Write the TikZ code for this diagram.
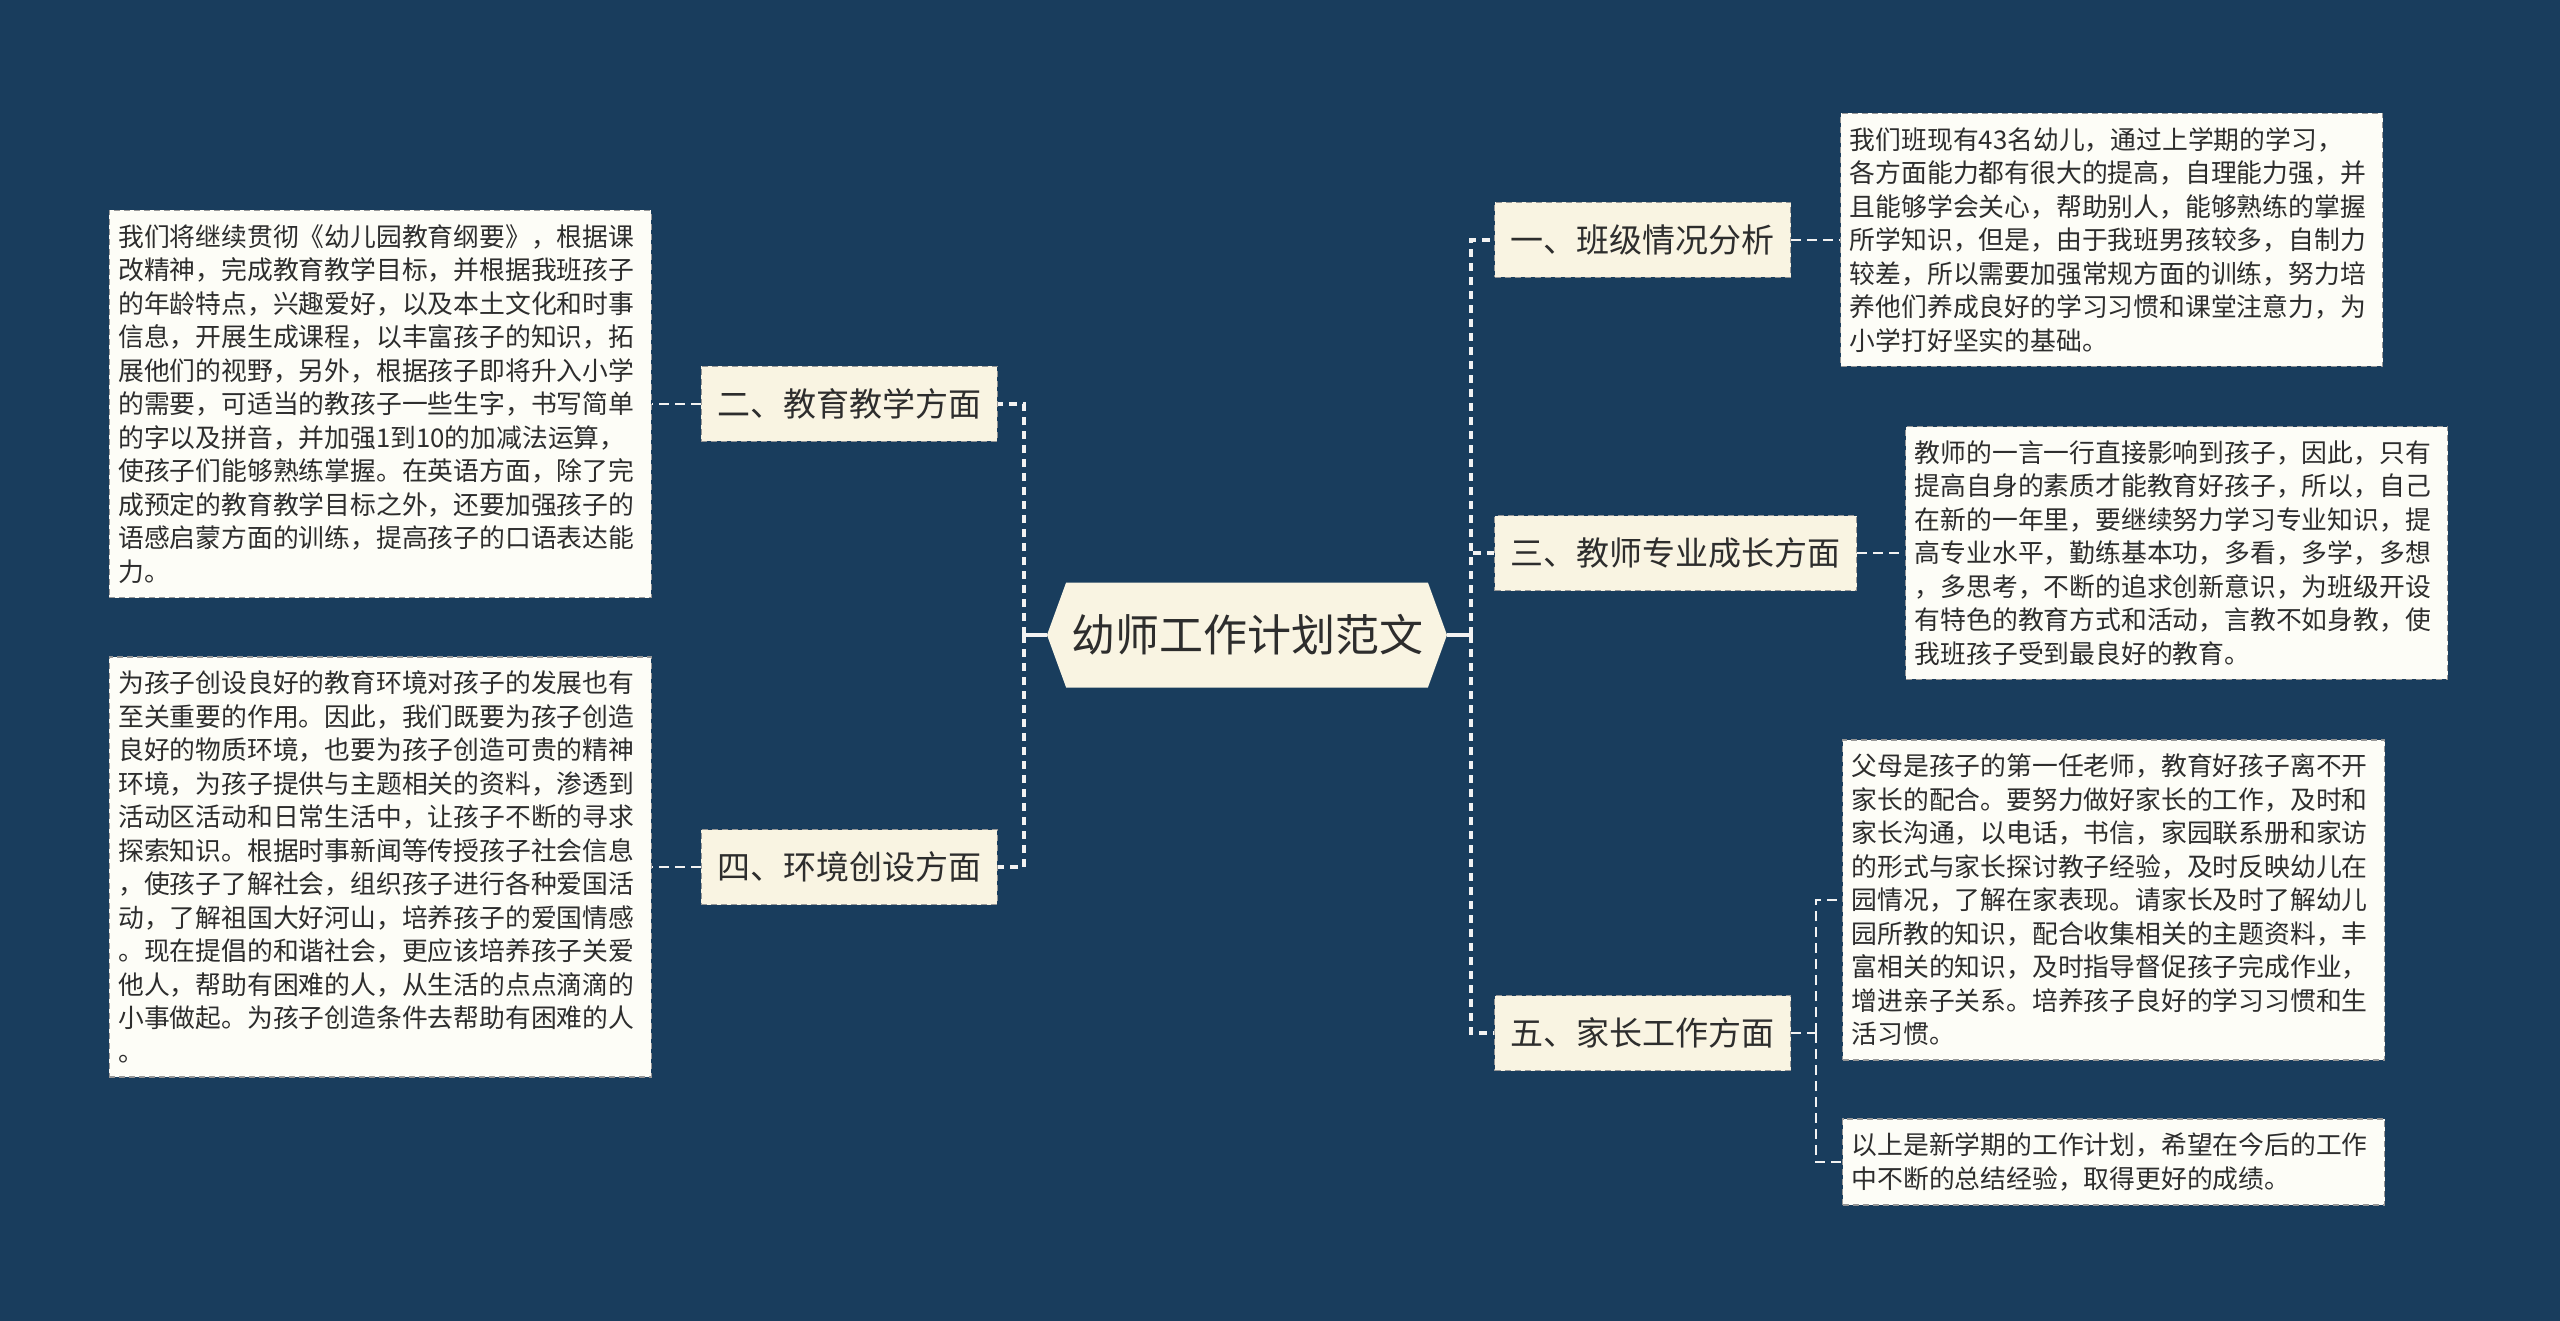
\documentclass[tikz,border=0pt]{standalone}
\usepackage{fontspec}
\setmainfont{Noto Sans CJK SC}
\usepackage{xcolor}
\usepackage{tikz}
\usetikzlibrary{shapes,arrows.meta,positioning,calc}

\definecolor{bgnavy}{RGB}{25,61,93}
\definecolor{cream}{RGB}{249,244,226}
\definecolor{paper}{RGB}{253,253,247}
\definecolor{ink}{RGB}{45,45,45}
\definecolor{edgegray}{RGB}{150,150,150}
\definecolor{linegray}{RGB}{242,242,242}

\begin{document}
\begin{tikzpicture}[
    x=1pt, y=-1pt,
    root/.style={signal, signal to=east and west, signal pointer angle=140, fill=cream, draw=none, minimum width=400pt, minimum height=105pt, inner sep=0pt, font=\fontsize{44}{52}\selectfont, text=ink},
    lbl/.style={rectangle, draw=edgegray, line width=1.2pt, dash pattern=on 6pt off 4pt, fill=cream, minimum height=75pt, inner xsep=16pt, font=\fontsize{33}{40}\selectfont, text=ink},
    txt/.style={rectangle, draw=edgegray, line width=1.2pt, dash pattern=on 6pt off 4pt, fill=paper, text width=524pt, align=left, inner xsep=9pt, inner ysep=14pt, font=\fontsize{25.8}{33.5}\selectfont, text=ink},
    trunk/.style={draw=linegray, line width=4pt, dash pattern=on 8pt off 6pt},
    link/.style={draw=linegray, line width=2.5pt, dash pattern=on 10pt off 6pt},
    stub/.style={draw=linegray, line width=3.5pt}
]
    \fill [bgnavy] (0,0) rectangle (2560,1321);
    \useasboundingbox (0,0) rectangle (2560,1321);

    \node [root] (root) at (1247,635) {幼师工作计划范文};

    \node [lbl, anchor=east] (l2) at (998,404) {二、教育教学方面};
    \node [lbl, anchor=east] (l4) at (998,867) {四、环境创设方面};
    \node [lbl, anchor=west] (l1) at (1494,240) {一、班级情况分析};
    \node [lbl, anchor=west] (l3) at (1494,553) {三、教师专业成长方面};
    \node [lbl, anchor=west] (l5) at (1494,1033) {五、家长工作方面};

    \node [txt, left=49pt of l2] (tA) {我们将继续贯彻《幼儿园教育纲要》，根据课\\
改精神，完成教育教学目标，并根据我班孩子\\
的年龄特点，兴趣爱好，以及本土文化和时事\\
信息，开展生成课程，以丰富孩子的知识，拓\\
展他们的视野，另外，根据孩子即将升入小学\\
的需要，可适当的教孩子一些生字，书写简单\\
的字以及拼音，并加强1到10的加减法运算，\\
使孩子们能够熟练掌握。在英语方面，除了完\\
成预定的教育教学目标之外，还要加强孩子的\\
语感启蒙方面的训练，提高孩子的口语表达能\\
力。};
    \node [txt, left=49pt of l4] (tB) {为孩子创设良好的教育环境对孩子的发展也有\\
至关重要的作用。因此，我们既要为孩子创造\\
良好的物质环境，也要为孩子创造可贵的精神\\
环境，为孩子提供与主题相关的资料，渗透到\\
活动区活动和日常生活中，让孩子不断的寻求\\
探索知识。根据时事新闻等传授孩子社会信息\\
，使孩子了解社会，组织孩子进行各种爱国活\\
动，了解祖国大好河山，培养孩子的爱国情感\\
。现在提倡的和谐社会，更应该培养孩子关爱\\
他人，帮助有困难的人，从生活的点点滴滴的\\
小事做起。为孩子创造条件去帮助有困难的人\\
。};
    \node [txt, right=49pt of l1] (t1) {我们班现有43名幼儿，通过上学期的学习，\\
各方面能力都有很大的提高，自理能力强，并\\
且能够学会关心，帮助别人，能够熟练的掌握\\
所学知识，但是，由于我班男孩较多，自制力\\
较差，所以需要加强常规方面的训练，努力培\\
养他们养成良好的学习习惯和课堂注意力，为\\
小学打好坚实的基础。};
    \node [txt, right=48pt of l3] (t2) {教师的一言一行直接影响到孩子，因此，只有\\
提高自身的素质才能教育好孩子，所以，自己\\
在新的一年里，要继续努力学习专业知识，提\\
高专业水平，勤练基本功，多看，多学，多想\\
，多思考，不断的追求创新意识，为班级开设\\
有特色的教育方式和活动，言教不如身教，使\\
我班孩子受到最良好的教育。};
    \node [txt, anchor=west] (t3) at (1842,900) {父母是孩子的第一任老师，教育好孩子离不开\\
家长的配合。要努力做好家长的工作，及时和\\
家长沟通，以电话，书信，家园联系册和家访\\
的形式与家长探讨教子经验，及时反映幼儿在\\
园情况，了解在家表现。请家长及时了解幼儿\\
园所教的知识，配合收集相关的主题资料，丰\\
富相关的知识，及时指导督促孩子完成作业，\\
增进亲子关系。培养孩子良好的学习习惯和生\\
活习惯。};
    \node [txt, anchor=west] (t4) at (1842,1162) {以上是新学期的工作计划，希望在今后的工作\\
中不断的总结经验，取得更好的成绩。};

    \coordinate (cl) at (1024,635);
    \coordinate (cr) at (1471,635);
    \coordinate (j5) at (1816,1033);

    \draw [stub] (root.west) -- (cl);
    \draw [stub] (root.east) -- (cr);
    \draw [trunk] (cl) |- (l2.east);
    \draw [trunk] (cl) |- (l4.east);
    \draw [trunk] (cr) |- (l1.west);
    \draw [trunk] (cr) |- (l3.west);
    \draw [trunk] (cr) |- (l5.west);

    \draw [link] (l2.west) -- (tA.east);
    \draw [link] (l4.west) -- (tB.east);
    \draw [link] (l1.east) -- (t1.west);
    \draw [link] (l3.east) -- (t2.west);
    \draw [link] (l5.east) -- (j5);
    \draw [link] (j5) |- (t3.west);
    \draw [link] (j5) |- (t4.west);
\end{tikzpicture}
\end{document}
